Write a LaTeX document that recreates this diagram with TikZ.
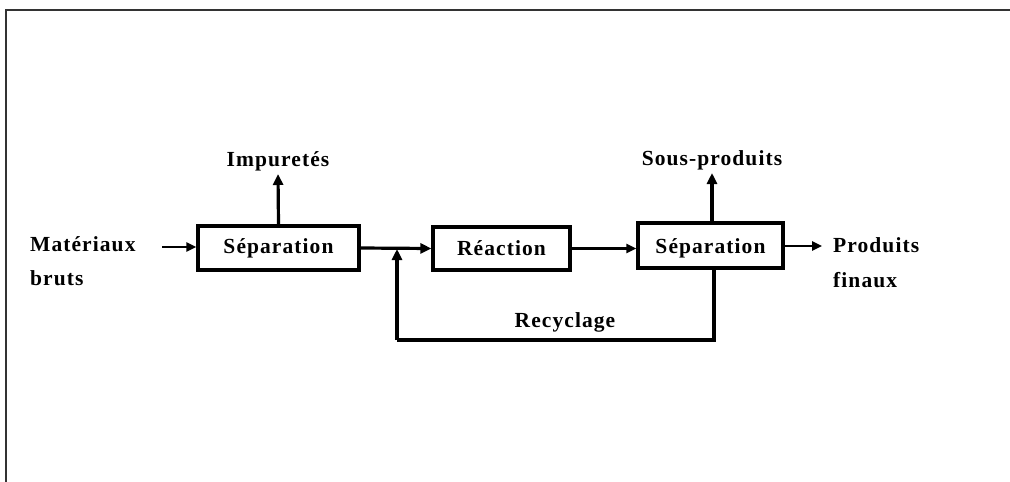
\documentclass[tikz,border=0pt]{standalone}
\usepackage{fontspec}
\setmainfont{Liberation Serif}[LetterSpace=5]
\usetikzlibrary{arrows.meta}
\begin{document}
\begin{tikzpicture}[x=1pt,y=-1pt,
  lbl/.style={font=\fontsize{21.5}{24}\selectfont\bfseries, inner sep=0pt},
  box/.style={draw, line width=3.2pt, minimum height=0, inner sep=0pt},
  flow/.style={line width=3.2pt, -{Triangle[length=11pt,width=10pt]}},
  thin flow/.style={line width=2.4pt, -{Triangle[length=10pt,width=9pt]}},
  line/.style={line width=3.2pt}]
\useasboundingbox (0,0) rectangle (1010,482);
% frame
\draw[line width=2pt, black!80] (6,482) -- (6,10) -- (1010,10);
% boxes
\node[box, minimum width=161pt, minimum height=44pt] (sep1) at (278.5,248) {};
\node[lbl] at (sep1.center) {Séparation};
\node[box, minimum width=137pt, minimum height=43pt] (rea) at (501.5,248.5) {};
\node[lbl] at (rea.center) {Réaction};
\node[box, minimum width=145pt, minimum height=45pt] (sep2) at (710.5,245.5) {};
\node[lbl] at ([yshift=-3pt]sep2.center) {Séparation};
% labels
\node[lbl, anchor=west] (mat) at (30,244) {Matériaux};
\node[lbl, anchor=west] (bru) at (30,278) {bruts};
\node[lbl] (imp) at (278,161) {Impuretés};
\node[lbl] (sous) at (712,160) {Sous-produits};
\node[lbl, anchor=west] (pro) at (833,245) {Produits};
\node[lbl, anchor=west] (fin) at (833,280) {finaux};
\node[lbl] (rec) at (565,322) {Recyclage};
% coordinates
\coordinate (inA) at (162,247);
\coordinate (impT) at (278,174);
\coordinate (sousT) at (712,173);
\coordinate (outB) at (822,246);
\coordinate (junc) at (397,249);
\coordinate (rb) at (714,340);
\coordinate (lb) at (397,340);
% connectors
\draw[thin flow] (inA) -- (sep1.west |- inA);
\draw[flow] (sep1.north) -- (impT);
\draw[flow] (sep1.east) -- (rea.west);
\draw[thin flow] (rea.east) -- (sep2.west |- rea.east);
\draw[flow] (sep2.north -| sousT) -- (sousT);
\draw[thin flow] (sep2.east |- outB) -- (outB);
\draw[line] (sep2.south -| rb) -- (rb) -- (lb);
\draw[flow] (lb) -- (junc);
\end{tikzpicture}
\end{document}
